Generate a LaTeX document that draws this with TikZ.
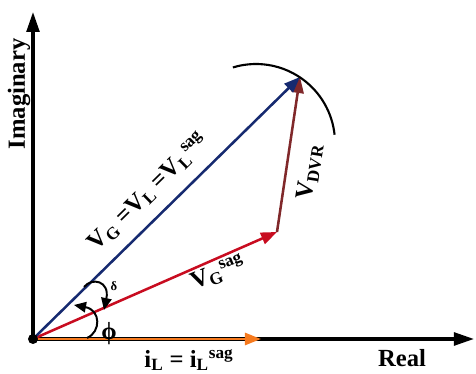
\documentclass[tikz,border=0pt]{standalone}
\usepackage{fontspec}
\setmainfont{Liberation Serif}
\usetikzlibrary{arrows.meta}
\definecolor{blueV}{RGB}{22,42,112}
\definecolor{redG}{RGB}{200,12,32}
\definecolor{brownD}{RGB}{128,40,42}
\definecolor{orangeL}{RGB}{246,122,30}
\begin{document}
\begin{tikzpicture}[x=0.025cm,y=0.025cm,
  axis/.style={line width=2.2pt,-{Triangle[length=0.5cm,width=0.32cm]}},
  phasor/.style={line width=1.8pt,-{Triangle[length=0.4cm,width=0.3cm]}},
  angarrow/.style={line width=1.4pt,-{Triangle[length=0.3cm,width=0.26cm]}},
  lbl/.style={font=\fontsize{17.5}{20}\selectfont\bfseries,text=black,inner sep=0pt}]
\useasboundingbox (0,0) rectangle (476,374);

\coordinate (O) at (33,35);
\coordinate (Itop) at (33,362);
\coordinate (Rend) at (474,35);
\coordinate (IL) at (261,35);
\coordinate (VG) at (300,297);
\coordinate (VGs) at (277,142);
\coordinate (C) at (256,231);
\coordinate (dA) at (84,87);
\coordinate (dB) at (104,64);
\coordinate (pA) at (87,36);
\coordinate (pB) at (74,69);

% axes
\draw[axis] (O) -- (Itop);
\draw[axis] (O) -- (Rend);

% phasors
\draw[phasor,orangeL] (O) -- (IL);
\draw[phasor,redG] (O) -- (VGs);
\draw[phasor,brownD] (VGs) -- (VG);
\draw[phasor,blueV] (O) -- (VG);
\fill (O) circle (5);
\draw[line width=1.5pt] ([shift={(107:79)}]C) arc (107:6:79);

% angles
\draw[angarrow] (dA) .. controls (92,97) and (110,93) .. (dB);
\draw[angarrow] (pA) .. controls (101,42) and (101,64) .. (pB);

% labels
\node[lbl,rotate=90] (imag) at (19,280) {Imaginary};
\node[lbl] (real) at (402,16) {Real};
\node[lbl] (ilab) at (189,14) {i\textsubscript{L} = i\textsubscript{L}\textsuperscript{sag}};
\node[lbl,rotate=44.5] (vlab) at (148,182) {V\textsubscript{G} =V\textsubscript{L} =V\textsubscript{L}\textsuperscript{sag}};
\node[lbl,rotate=22] (vgs) at (218,101) {V\textsubscript{G}\textsuperscript{sag}};
\node[lbl,rotate=81] (vdvr) at (310,202) {V\textsubscript{DVR}};
\node[font=\fontsize{9}{10}\selectfont\bfseries] (dl) at (114,88) {δ};
\node[lbl] (pl) at (109,40) {ϕ};
\end{tikzpicture}
\end{document}
